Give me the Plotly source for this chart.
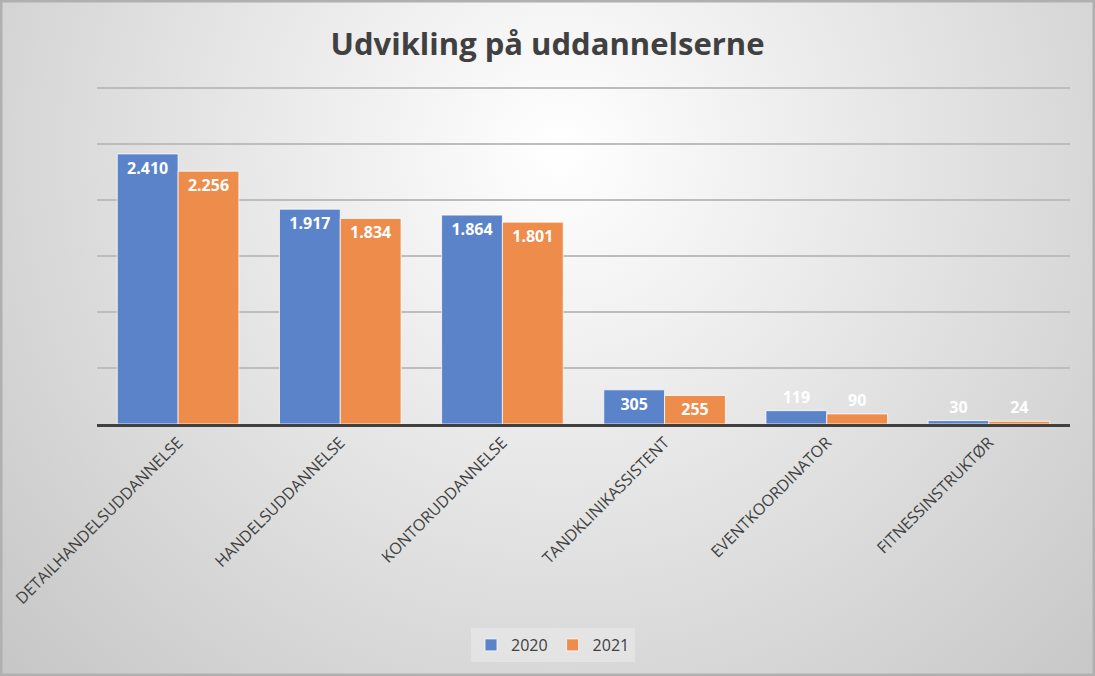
import base64
import plotly.graph_objects as go

categories = ["DETAILHANDELSUDDANNELSE", "HANDELSUDDANNELSE", "KONTORUDDANNELSE",
              "TANDKLINIKASSISTENT", "EVENTKOORDINATOR", "FITNESSINSTRUKTØR"]
v2020 = [2410, 1917, 1864, 305, 119, 30]
v2021 = [2256, 1834, 1801, 255, 90, 24]
series_names = ["2020", "2021"]

W, H = 1095, 676
ML, MR, MT, MB = 97, 25, 85, 252
PW, PH = W - ML - MR, H - MT - MB

svg = f'''<svg xmlns="http://www.w3.org/2000/svg" width="{W}" height="{H}" viewBox="0 0 {W} {H}">
<defs><radialGradient id="g" gradientUnits="userSpaceOnUse" cx="560" cy="150" r="820">
<stop offset="0" stop-color="#ffffff"/><stop offset="0.15" stop-color="#f6f6f6"/><stop offset="1" stop-color="#c2c2c2"/></radialGradient></defs>
<rect x="0" y="0" width="{W}" height="{H}" fill="url(#g)"/>
<rect x="1" y="1" width="{W-2}" height="{H-2}" fill="none" stroke="#b0b0b0" stroke-width="3"/>
</svg>'''
src = "data:image/svg+xml;base64," + base64.b64encode(svg.encode()).decode()


def fmt(v):
    return f"{v:,}".replace(",", ".")


colors = ["#5B83CA", "#EE8C4C"]
lab_font = dict(family="Open Sans", size=16, color="white", weight="bold")
fig = go.Figure()
for name, vals, col in zip(series_names, [v2020, v2021], colors):
    fig.add_trace(go.Bar(
        name=name, x=categories, y=vals,
        marker=dict(color=col, line=dict(color="rgba(255,255,255,0.75)", width=1)),
        text=[fmt(v) for v in vals], textposition="auto", insidetextanchor="end",
        textfont=lab_font, insidetextfont=lab_font, outsidetextfont=lab_font,
        cliponaxis=False, hoverinfo="x+y",
    ))

fig.update_layout(
    width=W, height=H,
    margin=dict(l=ML, r=MR, t=MT, b=MB),
    paper_bgcolor="#dcdcdc", plot_bgcolor="rgba(0,0,0,0)",
    barmode="group", bargap=0.25, bargroupgap=0,
    title=dict(text="<b>Udvikling på uddannelserne</b>", x=0.5, xref="container", xanchor="center",
               y=1 - 44 / H, yanchor="middle",
               font=dict(family="Open Sans", size=31, color="#404040")),
    font=dict(family="Open Sans", color="#404040"),
    showlegend=True,
    legend=dict(orientation="h", x=(553 - ML) / PW, xanchor="center",
                y=-(645 - (H - MB)) / PH, yanchor="middle",
                bgcolor="rgba(240,240,240,0.45)", font=dict(size=16, color="#404040"),
                itemwidth=30, traceorder="normal"),
    images=[dict(source=src, xref="paper", yref="paper", x=-ML / PW, y=1 + MT / PH,
                 sizex=W / PW, sizey=H / PH, sizing="stretch", xanchor="left", yanchor="top",
                 layer="below")],
)
fig.update_xaxes(showline=True, linecolor="#404040", linewidth=3, ticks="", tickangle=-45,
                 tickfont=dict(family="Open Sans", size=16, color="#404040"), showgrid=False)
fig.update_yaxes(range=[0, 3025], tickvals=[500, 1000, 1500, 2000, 2500, 3000],
                 showticklabels=False, showgrid=True,
                 gridcolor="#bdbdbd", gridwidth=1.5, zeroline=False, showline=False)

fig.write_html("out.html")
